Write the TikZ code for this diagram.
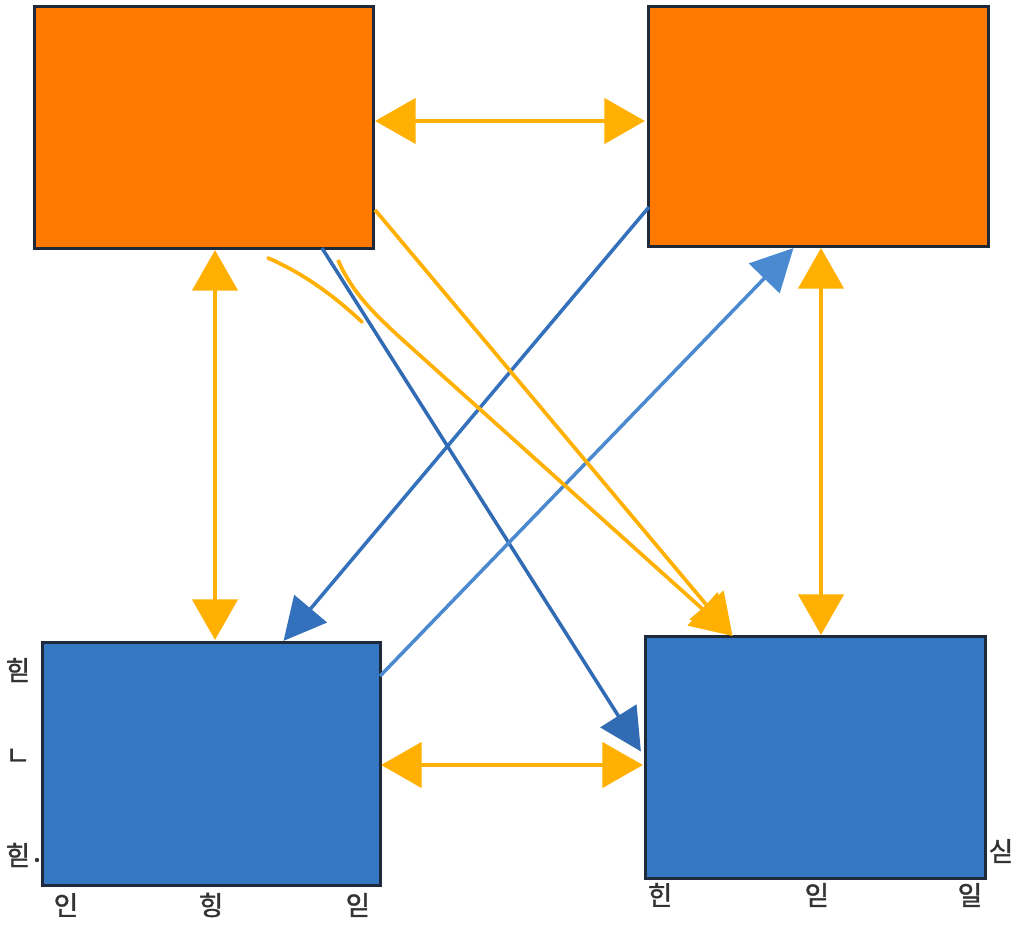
\documentclass[tikz,border=0pt]{standalone}
\usepackage{fontspec}
\newfontfamily\kr[FakeBold=1.2]{Noto Sans CJK KR}
\usetikzlibrary{arrows.meta,calc}
\definecolor{orangebox}{HTML}{FF7800}
\definecolor{bluebox}{HTML}{3577C3}
\definecolor{edge}{HTML}{1E2A3A}
\definecolor{gold}{HTML}{FFB000}
\definecolor{darkblue}{HTML}{3471BD}
\definecolor{lightblue}{HTML}{4B8AD0}
\definecolor{txt}{HTML}{333333}
\tikzset{
  obox/.style={draw=edge, line width=0.85pt, fill=orangebox, inner sep=0pt, outer sep=0pt},
  bbox/.style={draw=edge, line width=0.85pt, fill=bluebox, inner sep=0pt, outer sep=0pt},
  ya/.style={draw=gold, line width=1.15pt, {Triangle[length=11.5pt,width=12.8pt]}-{Triangle[length=11.5pt,width=12.8pt]}},
  yone/.style={draw=gold, line width=1.05pt, -{Triangle[length=11.5pt,width=12.5pt]}},
  yline/.style={draw=gold, line width=1.05pt, line cap=round},
  ba/.style={line width=1.0pt, -{Triangle[length=12pt,width=12pt]}},
  lbl/.style={font=\kr\fontsize{7.6}{8}\selectfont, text=txt, inner sep=0pt}
}
\begin{document}
\begin{tikzpicture}[x=0.01cm,y=-0.01cm]
\useasboundingbox (0,0) rectangle (1024,931);
\fill[white] (0,0) rectangle (1024,931);
% boxes
\node[obox, minimum width=3.38cm, minimum height=2.41cm] (tl) at (204,127.5) {};
\node[obox, minimum width=3.39cm, minimum height=2.39cm] (tr) at (818.5,126.5) {};
\node[bbox, minimum width=3.37cm, minimum height=2.42cm] (bl) at (211.5,764) {};
\node[bbox, minimum width=3.39cm, minimum height=2.41cm] (br) at (815.5,757.5) {};
% double arrows
\draw[ya] ($(tl.east)+(2,-6.5)$) -- ($(tr.west)+(-4,-5.5)$);
\draw[ya] ($(tl.south)+(11,2)$) -- ($(bl.north)+(3.5,-3)$);
\draw[ya] ($(tr.south)+(2.5,2)$) -- ($(br.north)+(5.5,-2)$);
\draw[ya] ($(bl.east)+(1,1)$) -- ($(br.west)+(-3,7.5)$);
% blue lines
\draw[ba, darkblue] ($(tr.south west)+(0,-39)$) -- ($(bl.north)+(72,-2)$);
\draw[ba, darkblue!95!black] ($(tl.south)+(118,0)$) -- ($(br.west)+(-5,-6)$);
\draw[ba, lightblue] ($(bl.east)+(0,-88)$) -- ($(tr.south)+(-25,2)$);
% yellow lines
\coordinate (c1) at (338,260);
\coordinate (c2) at (268,258);
\coordinate (c3) at (362,322);
\coordinate (tip) at ($(br.north)+(-83,-1)$);
\draw[yone] (c1) .. controls (352,292) and (372,312) .. (405,342) -- (tip);
\draw[yone] ($(tl.east)+(2,82.5)$) -- (tip);
\draw[yline] (c2) .. controls (300,272) and (330,292) .. (c3);
% labels
\node[lbl] (l1) at (18,670) {힏};
\node[lbl] (l2) at (18,757) {ㄴ};
\node[lbl] (l3) at (18,855) {힏};
\fill[txt] (37,860) circle (2.2);
\node[lbl] (b1) at (66,905) {인};
\node[lbl] (b2) at (211,905) {힝};
\node[lbl] (b3) at (358,905) {읻};
\node[lbl] (b4) at (660,895) {힌};
\node[lbl] (b5) at (817,895) {읻};
\node[lbl] (b6) at (970,895) {일};
\node[lbl] (r1) at (1001,851) {싣};
\end{tikzpicture}
\end{document}
